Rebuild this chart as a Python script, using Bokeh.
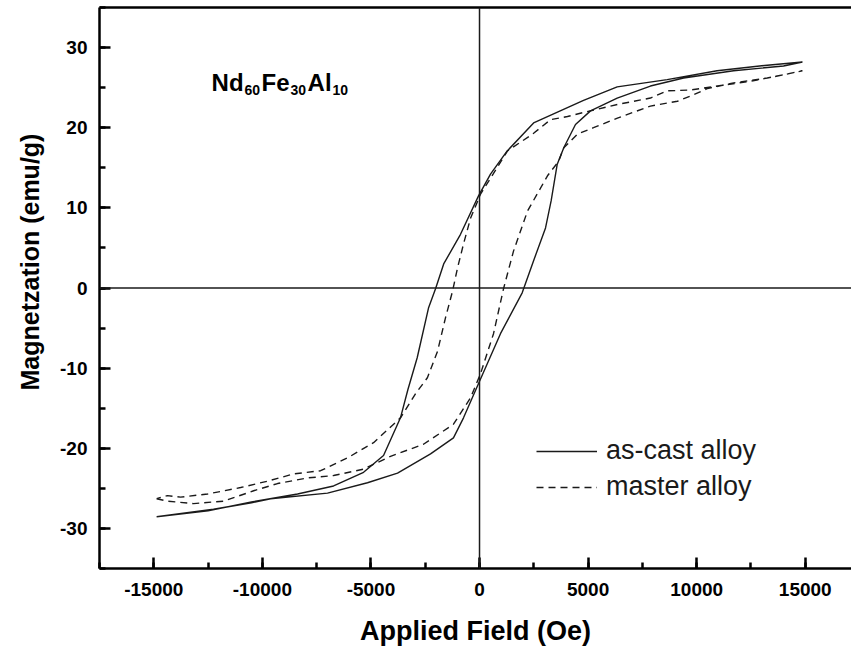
from bokeh.plotting import figure
from bokeh.models import (Range1d, LinearAxis, Span, Label, Legend, LegendItem, Title,
                          SingleIntervalTicker, FixedTicker, PrintfTickFormatter)
from bokeh.embed import file_html
from bokeh.resources import INLINE

# ---- hysteresis loop data (field in Oe, magnetization in emu/g) ----
# as-cast alloy, ascending field branch
cast_up_h = [-14870, -12250, -10500, -9620, -7000, -5160, -3775, -2255, -1200, -737,
             -90, 965, 1965, 2490, 3040, 3300, 3575, 3880, 4420, 5110, 6340, 7870,
             9400, 11700, 14000, 14870]
cast_up_m = [-28.55, -27.6, -26.8, -26.3, -25.6, -24.3, -23.1, -20.7, -18.7, -16.2,
             -12.2, -5.7, -0.6, 3.4, 7.5, 10.9, 15.4, 17.5, 20.4, 22.1, 23.7, 25.2,
             26.2, 27.1, 27.7, 28.2]
# as-cast alloy, descending field branch
cast_dn_h = [14870, 13250, 10940, 8640, 6340, 4790, 2490, 1275, 506, -46, -875, -1650,
             -2025, -2350, -2870, -3300, -3640, -4420, -5340, -6720, -8380, -10500,
             -12500, -14870]
cast_dn_m = [28.2, 27.8, 27.1, 26.0, 25.1, 23.4, 20.6, 17.1, 14.2, 11.5, 6.7, 3.0,
             -0.1, -2.5, -8.7, -12.7, -16.2, -20.9, -23.0, -24.7, -25.7, -26.7,
             -27.8, -28.55]

# master alloy, ascending field branch
master_up_h = [-14870, -14370, -13170, -11790, -10400, -9300, -7920, -6720, -5340,
               -4100, -2580, -1200, -414, 46, 645, 1105, 1565, 2210, 3130, 3640, 3880,
               4510, 5250, 6350, 7870, 9110, 9850, 10500, 11700, 13250, 14870]
master_up_m = [-26.3, -26.6, -26.9, -26.6, -25.3, -24.4, -23.7, -23.4, -22.6, -21.0,
               -19.5, -17.0, -13.7, -10.7, -5.7, -0.1, 4.6, 9.6, 14.0, 15.8, 17.5,
               19.2, 20.0, 21.2, 22.7, 23.3, 24.1, 24.9, 25.6, 26.2, 27.1]
# master alloy, descending field branch
master_dn_h = [14870, 14000, 12480, 10950, 9710, 8650, 7870, 6350, 4790, 4050, 3270,
               2490, 1290, 46, -414, -736, -1013, -1243, -1565, -1934, -2400, -2950,
               -3640, -4880, -6080, -7320, -8560, -9760, -11000, -12520, -13770,
               -14370, -14870]
master_dn_m = [27.1, 26.6, 25.8, 25.2, 24.7, 24.6, 23.7, 22.9, 21.9, 21.4, 21.0, 19.3,
               17.1, 11.7, 8.7, 5.5, 2.5, -0.4, -3.7, -7.9, -11.2, -13.2, -16.2, -19.3,
               -21.2, -22.8, -23.2, -24.1, -24.9, -25.7, -26.1, -25.9, -26.3]

series_names = ["as-cast alloy", "master alloy"]

FONT = "Liberation Sans"
INK = "#1a1a1a"

p = figure(frame_width=752, frame_height=561,
           x_range=Range1d(-17500, 17130), y_range=Range1d(-35, 35),
           output_backend="svg", toolbar_location=None,
           x_axis_location=None, y_axis_location=None,
           min_border_left=99, min_border_right=0, min_border_top=7,
           min_border_bottom=79)
p.outline_line_color = None
p.background_fill_color = "white"
p.border_fill_color = "white"
p.grid.grid_line_color = None


def style_axis(ax):
    ax.axis_line_width = 2.5
    ax.axis_line_color = "black"
    ax.major_tick_in = 11
    ax.major_tick_out = 0
    ax.minor_tick_in = 6
    ax.minor_tick_out = 0
    ax.major_tick_line_width = 2.5
    ax.minor_tick_line_width = 2.5
    ax.formatter = PrintfTickFormatter(format="%d")
    ax.major_label_text_font = FONT
    ax.major_label_text_font_style = "bold"
    ax.major_label_text_font_size = "19px"
    ax.major_label_text_color = "black"
    ax.axis_label_text_font = FONT
    ax.axis_label_text_font_style = "bold"
    ax.axis_label_text_font_size = "27px"
    ax.axis_label_text_color = "black"


xaxis = LinearAxis(ticker=SingleIntervalTicker(interval=5000, num_minor_ticks=2),
                   axis_label="Applied Field (Oe)")
style_axis(xaxis)
xaxis.major_label_standoff = 14
xaxis.axis_label_standoff = 17
p.add_layout(xaxis, "below")

yaxis = LinearAxis(ticker=SingleIntervalTicker(interval=10, num_minor_ticks=2))
style_axis(yaxis)
yaxis.major_label_standoff = 12
p.add_layout(yaxis, "left")

# y-axis title, starting 178 px above the bottom of the frame
ytitle = Title(text="Magnetzation (emu/g)", align="left", offset=178,
               text_font=FONT, text_font_style="bold", text_font_size="25px",
               text_color="black", standoff=27)
p.add_layout(ytitle, "left")

top = LinearAxis(ticker=FixedTicker(ticks=[]))
top.axis_line_width = 2.5
top.axis_line_color = "black"
top.major_label_text_font_size = "0px"
top.major_tick_in = 0
top.major_tick_out = 0
top.minor_tick_in = 0
top.minor_tick_out = 0
p.add_layout(top, "above")

# zero reference lines
p.add_layout(Span(location=0, dimension="width", line_color=INK, line_width=1.5))
p.add_layout(Span(location=0, dimension="height", line_color=INK, line_width=1.5))

r_cast = p.line(cast_up_h + cast_dn_h, cast_up_m + cast_dn_m,
                line_color=INK, line_width=1.4)
r_master = p.line(master_up_h + master_dn_h, master_up_m + master_dn_m,
                  line_color=INK, line_width=1.4, line_dash="7 5")

legend = Legend(items=[LegendItem(label=series_names[0], renderers=[r_cast]),
                       LegendItem(label=series_names[1], renderers=[r_master])],
                location=(437, 66))
legend.border_line_color = None
legend.background_fill_alpha = 0
legend.padding = 0
legend.margin = 0
legend.spacing = 5
legend.glyph_width = 61
legend.glyph_height = 30
legend.label_height = 30
legend.label_standoff = 9
legend.label_text_font = FONT
legend.label_text_font_size = "27px"
legend.label_text_color = INK
p.add_layout(legend)

# composition label with subscripts
parts = [("Nd", 0, 0, "24px"), ("60", 33, -8, "14px"),
         ("Fe", 50, 0, "24px"), ("30", 79, -8, "14px"),
         ("Al", 96, 0, "24px"), ("10", 121, -8, "14px")]
for txt, dx, dy, size in parts:
    p.add_layout(Label(x=-12340, y=25.68, x_offset=dx, y_offset=dy, text=txt,
                       text_font=FONT, text_font_style="bold",
                       text_font_size=size, text_color="black",
                       text_baseline="alphabetic"))

open("out.html", "w").write(file_html(p, INLINE))
